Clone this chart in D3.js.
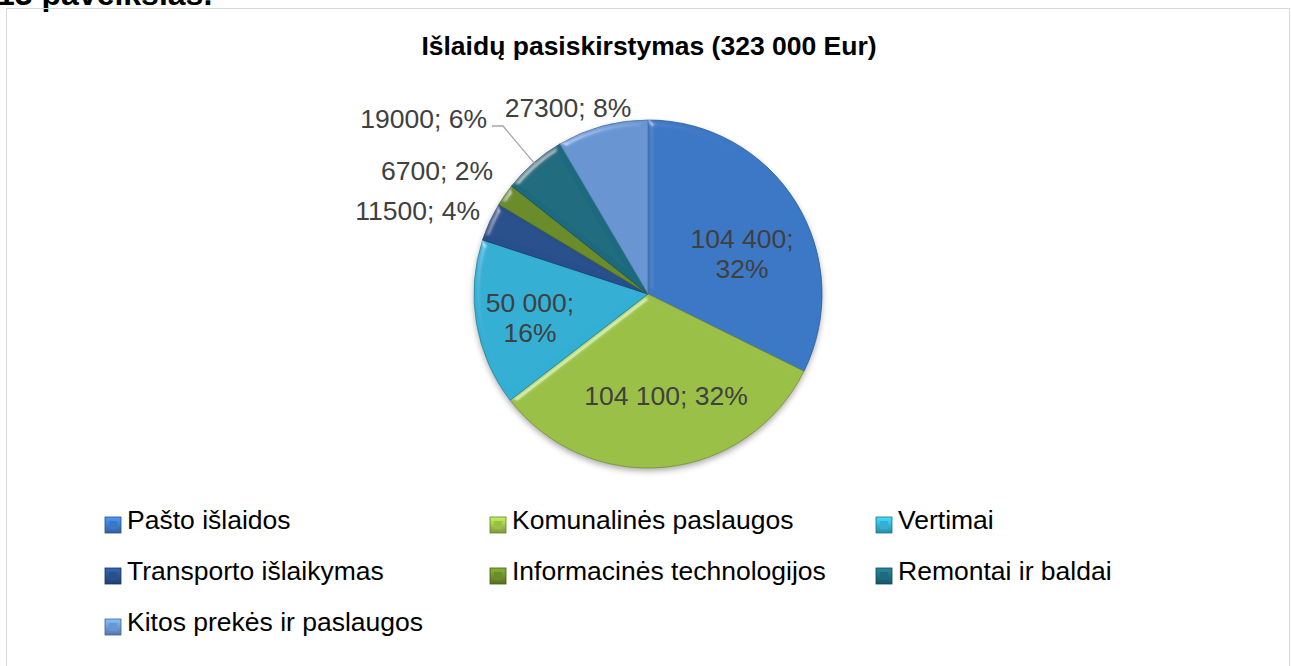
<!DOCTYPE html>
<html><head><meta charset="utf-8">
<script src="https://cdn.jsdelivr.net/npm/d3@7"></script>
<style>html,body{margin:0;padding:0;background:#fff;} svg{display:block;font-family:Arial,"Liberation Sans",sans-serif;}</style>
</head><body>
<script>
const categories = ["Pašto išlaidos","Komunalinės paslaugos","Vertimai","Transporto išlaikymas","Informacinės technologijos","Remontai ir baldai","Kitos prekės ir paslaugos"];
const values = [104400,104100,50000,11500,6700,19000,27300];
const labels = ["104 400;\n32%","104 100; 32%","50 000;\n16%","11500; 4%","6700; 2%","19000; 6%","27300; 8%"];
const colors = ["#3b78c6","#9bc046","#33afd4","#28508c","#6a8c2a","#1d6b7e","#6896d2"];
const title = "Išlaidų pasiskirstymas (323 000 Eur)";

const W=1291,H=666;
const svg=d3.select("body").append("svg").attr("width",W).attr("height",H);
const defs=svg.append("defs");
const f=defs.append("filter").attr("id","bevel").attr("x","-10%").attr("y","-10%").attr("width","120%").attr("height","120%");
f.append("feGaussianBlur").attr("in","SourceAlpha").attr("stdDeviation",3).attr("result","blur");
const sp=f.append("feSpecularLighting").attr("in","blur").attr("surfaceScale",4).attr("specularConstant",0.7).attr("specularExponent",35).attr("lighting-color","#ffffff").attr("result","spec");
sp.append("feDistantLight").attr("azimuth",225).attr("elevation",30);
f.append("feComposite").attr("in","spec").attr("in2","SourceAlpha").attr("operator","in").attr("result","specIn");
f.append("feComposite").attr("in","SourceGraphic").attr("in2","specIn").attr("operator","arithmetic").attr("k1",0).attr("k2",1).attr("k3",0.5).attr("k4",0);

const sh=defs.append("filter").attr("id","shadow").attr("x","-20%").attr("y","-20%").attr("width","140%").attr("height","140%");
sh.append("feGaussianBlur").attr("in","SourceAlpha").attr("stdDeviation",3).attr("result","b");
sh.append("feOffset").attr("in","b").attr("dx",0).attr("dy",3).attr("result","o");
sh.append("feComponentTransfer").attr("in","o").append("feFuncA").attr("type","linear").attr("slope",0.35);

// caption cut at top (as in the reference)
svg.append("text").attr("x",-3).attr("y",5).attr("font-size",32).attr("font-weight","bold").attr("fill","#000").text("13 paveikslas.");
// chart border
svg.append("rect").attr("x",6.5).attr("y",8.5).attr("width",1283).attr("height",700).attr("fill","none").attr("stroke","#d9d9d9").attr("stroke-width",1);

svg.append("text").attr("x",649).attr("y",55).attr("text-anchor","middle").attr("font-size",26.5).attr("font-weight","bold").attr("fill","#000").text(title);

const cx=648,cy=294,r=174;
const pie=d3.pie().sort(null).value(d=>d)(values);
const arc=d3.arc().innerRadius(0).outerRadius(r);
const g=svg.append("g").attr("transform",`translate(${cx},${cy})`);
g.append("circle").attr("r",r).attr("fill","#000").attr("filter","url(#shadow)");
g.selectAll("path.s").data(pie).enter().append("path").attr("class","s")
 .attr("d",arc).attr("fill",(d,i)=>colors[i]).attr("stroke",(d,i)=>d3.color(colors[i]).darker(0.8)).attr("stroke-width",0.8)
 .attr("filter","url(#bevel)");

const lab = svg.append("g").attr("font-size",26.5).attr("fill","#404040");
const inside=[[742,248],[666,405],[530,312]];
[0,1,2].forEach(i=>{
  const lines=labels[i].split("\n");
  const t=lab.append("text").attr("text-anchor","middle");
  lines.forEach((l,k)=>t.append("tspan").attr("x",inside[i][0]).attr("y",inside[i][1]+k*30).text(l));
});
const outside=[[3,480,220,"end"],[4,493,180,"end"],[5,487,128,"end"],[6,568,117,"middle"]];
outside.forEach(([i,x,y,a])=>lab.append("text").attr("x",x).attr("y",y).attr("text-anchor",a).text(labels[i]));
// leader line for Remontai ir baldai
const rem=pie[5];
const mid=(rem.startAngle+rem.endAngle)/2;
const ex=cx+Math.sin(mid)*r*0.97, ey=cy-Math.cos(mid)*r*0.97;
svg.append("polyline").attr("points",`492,126 503,126 ${ex},${ey}`).attr("fill","none").attr("stroke","#a6a6a6").attr("stroke-width",1.3);

// legend
const cols=[105,490,876], rows=[529,580,631];
const leg=svg.append("g").attr("font-size",26.5).attr("fill","#000");
categories.forEach((c,i)=>{
  const x=cols[i%3], y=rows[Math.floor(i/3)];
  const gr=defs.append("linearGradient").attr("id","lg"+i).attr("x1",0).attr("y1",0).attr("x2",0).attr("y2",1);
  gr.append("stop").attr("offset","0%").attr("stop-color",d3.color(colors[i]).brighter(0.7));
  gr.append("stop").attr("offset","100%").attr("stop-color",d3.color(colors[i]).darker(0.6));
  leg.append("rect").attr("x",x).attr("y",y-12).attr("width",16).attr("height",16).attr("fill","url(#lg"+i+")").attr("stroke",d3.color(colors[i]).darker(1.2)).attr("stroke-width",0.8);
  leg.append("rect").attr("x",x+4).attr("y",y-8).attr("width",8).attr("height",8).attr("fill",colors[i]);
  leg.append("text").attr("x",x+22).attr("y",y).text(c);
});
</script>
</body></html>
